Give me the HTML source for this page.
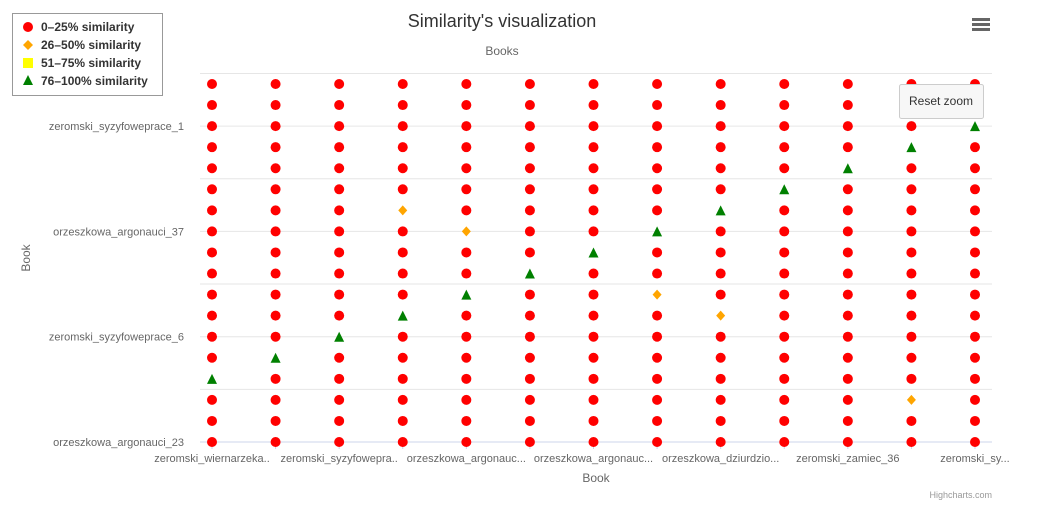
<!DOCTYPE html>
<html><head><meta charset="utf-8"><style>
body{margin:0;background:#fff;font-family:"Liberation Sans","DejaVu Sans",sans-serif;}
svg{display:block}
</style></head><body>
<svg id="c" width="1055" height="523" xmlns="http://www.w3.org/2000/svg">
<text x="502" y="27" text-anchor="middle" font-size="18" fill="#333">Similarity's visualization</text>
<text x="502" y="55" text-anchor="middle" font-size="12" fill="#666">Books</text>
<g id="grid"></g>
<g id="marks"></g>
<g id="labels"></g>
<text x="596" y="482" text-anchor="middle" font-size="12" fill="#666">Book</text>
<text transform="translate(30,258) rotate(-90)" text-anchor="middle" font-size="12" fill="#666">Book</text>
<text x="992" y="498" text-anchor="end" font-size="9" fill="#999">Highcharts.com</text>
<g>
<rect x="972" y="18" width="18" height="3" fill="#666"/><rect x="972" y="23" width="18" height="3" fill="#666"/><rect x="972" y="28" width="18" height="3" fill="#666"/>
</g>
<g>
<rect x="12.5" y="13.5" width="150" height="82" fill="#fff" stroke="#999"/>
<g><circle cx="28" cy="27" r="5" fill="#f00"/><text x="41" y="31" font-size="12" font-weight="bold" fill="#333">0–25% similarity</text></g>
<g><path d="M28 40 L33 45 L28 50 L23 45Z" fill="#ffa500"/><text x="41" y="49" font-size="12" font-weight="bold" fill="#333">26–50% similarity</text></g>
<g><rect x="23" y="58" width="10" height="10" fill="#ff0"/><text x="41" y="67" font-size="12" font-weight="bold" fill="#333">51–75% similarity</text></g>
<g><path d="M28 75 L33 85 L23 85Z" fill="#008000"/><text x="41" y="85" font-size="12" font-weight="bold" fill="#333">76–100% similarity</text></g>
</g>
<g id="reset">
<rect x="899.5" y="84.5" width="84" height="34" rx="2" fill="#f7f7f7" stroke="#ccc"/>
<text x="941" y="105" text-anchor="middle" font-size="12" fill="#333">Reset zoom</text>
</g>
</svg>
<script>
const xCategories=["zeromski_wiernarzeka..","c1","zeromski_syzyfowepra..","c3","orzeszkowa_argonauc...","c5","orzeszkowa_argonauc...","c7","orzeszkowa_dziurdzio...","c9","zeromski_zamiec_36","c11","zeromski_sy..."];
const xLabelIdx=[0,2,4,6,8,10,12];
const yLabels=["orzeszkowa_argonauci_23","zeromski_syzyfoweprace_6","orzeszkowa_argonauci_37","zeromski_syzyfoweprace_1"];
const yLabelIdx=[0,5,10,15];
const nRows=18;
// special points: [col,row] (row 0 = bottom)
const highPoints=[[0,3],[1,4],[2,5],[3,6],[4,7],[5,8],[6,9],[7,10],[8,11],[9,12],[10,13],[11,14],[12,15]];
const midPoints=[[3,11],[4,10],[7,7],[8,6],[11,2]];
const ns="http://www.w3.org/2000/svg";
const X=c=>212+c*(975-212)/12;
const Y=r=>442-r*(442-84)/17;
function mk(t,a,p){const e=document.createElementNS(ns,t);for(const k in a)e.setAttribute(k,a[k]);p.appendChild(e);return e;}
const grid=document.getElementById('grid'),marks=document.getElementById('marks'),labels=document.getElementById('labels');
for(let g=0;g<=17.5;g+=2.5){const l=mk('line',{x1:200,x2:992,y1:Y(g),y2:Y(g),stroke:g===0?'#ccd6eb':'#e6e6e6','stroke-width':1},grid);

}
for(let c=0;c<xCategories.length;c++){const t=mk('line',{x1:X(c),x2:X(c),y1:443,y2:449,stroke:'#ccd6eb'},grid);

}
xLabelIdx.forEach(i=>{const t=mk('text',{x:X(i),y:462,'text-anchor':'middle','font-size':11,fill:'#666'},labels);t.textContent=xCategories[i];

});
yLabelIdx.forEach((r,i)=>{const t=mk('text',{x:184,y:Y(r)+4,'text-anchor':'end','font-size':11,fill:'#666'},labels);t.textContent=yLabels[i];

});
const key=(c,r)=>c+','+r;
const hi=new Set(highPoints.map(p=>key(p[0],p[1]))),mid=new Set(midPoints.map(p=>key(p[0],p[1])));
for(let c=0;c<xCategories.length;c++)for(let r=0;r<nRows;r++){
const x=X(c),y=Y(r);let e;
if(hi.has(key(c,r))){e=mk('path',{d:`M${x} ${y-5}L${x+5} ${y+5}L${x-5} ${y+5}Z`,fill:'#008000'},marks);
}
else if(mid.has(key(c,r))){e=mk('path',{d:`M${x} ${y-5}L${x+4.5} ${y}L${x} ${y+5}L${x-4.5} ${y}Z`,fill:'#ffa500'},marks);
}
else{e=mk('circle',{cx:x,cy:y,r:5,fill:'#f00'},marks);
}
}
</script>
</body></html>
